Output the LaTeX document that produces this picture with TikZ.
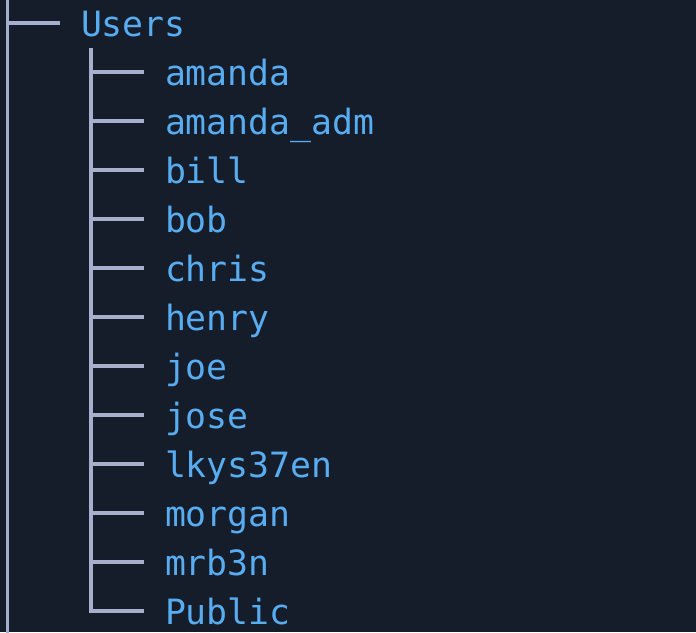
\documentclass[tikz,border=0pt]{standalone}
\usepackage{fontspec}
\newfontfamily\treefont{DejaVu Sans Mono}
\definecolor{bgc}{RGB}{21,28,42}
\definecolor{txtc}{RGB}{88,172,240}
\definecolor{linec}{RGB}{166,176,204}
\tikzset{
  branch/.style={draw=linec, line width=3.5pt, line cap=butt, line join=miter},
  entry/.style={anchor=base west, inner sep=0pt, outer sep=0pt, text=txtc,
    font=\treefont\fontsize{34.8}{40}\selectfont}
}
\begin{document}
\begin{tikzpicture}[x=1pt,y=-1pt]
\fill[bgc] (0,0) rectangle (696,632);
\useasboundingbox (0,0) rectangle (696,632);
% root level
\coordinate (rtop) at (7.5,-5);
\coordinate (rbot) at (7.5,640);
\draw[branch] (rtop) -- (rbot);
\coordinate (uj) at (7.5,23);
\coordinate (ue) at (60,23);
\node[entry] (users) at (81,36) {Users};
\draw[branch] (uj) -- (ue);
% children
\coordinate (ctop) at (91,48);
\foreach \nm [count=\i from 0] in {amanda,amanda\_adm,bill,bob,chris,henry,joe,jose,lkys37en,morgan,mrb3n,Public}{
  \coordinate (j\i) at (91,{72+49*\i});
  \coordinate (e\i) at (144,{72+49*\i});
  \node[entry] (n\i) at (165,{85+49*\i}) {\nm};
}
\draw[branch] (ctop) -- (j11) -- (e11);
\foreach \i in {0,...,10}{
  \draw[branch] (j\i) -- (e\i);
}
\end{tikzpicture}
\end{document}
